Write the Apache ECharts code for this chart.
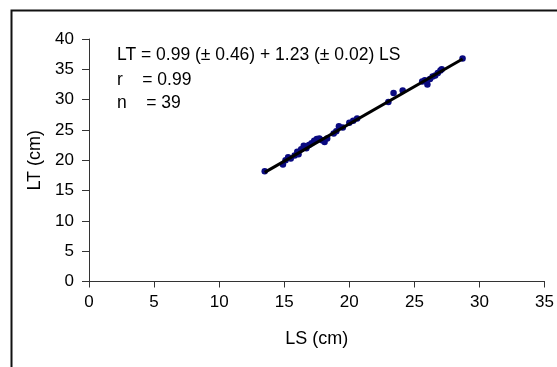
<!DOCTYPE html>
<html>
<head>
<meta charset="utf-8">
<script src="https://cdn.jsdelivr.net/npm/echarts@6/dist/echarts.min.js"></script>
<style>
html,body{margin:0;padding:0;background:#fff;}
#c{width:557px;height:367px;}
</style>
</head>
<body>
<div id="c"></div>
<script>
const xTicks = [0, 5, 10, 15, 20, 25, 30, 35];
const yTicks = [0, 5, 10, 15, 20, 25, 30, 35, 40];
const lsValues = [13.5, 14.9, 15.1, 15.3, 15.5, 15.8, 16.0, 16.1, 16.3, 16.5, 16.7, 16.9, 17.1, 17.3, 17.5, 17.7, 17.9, 18.1, 18.3, 18.8, 19.0, 19.2, 19.5, 20.0, 20.3, 20.6, 23.0, 23.4, 24.1, 25.6, 25.8, 26.0, 26.2, 26.4, 26.6, 26.8, 27.0, 27.1, 28.7];
const ltValues = [18.2, 19.3, 20.0, 20.5, 20.3, 20.8, 21.4, 21.0, 21.8, 22.4, 22.0, 22.5, 22.8, 23.2, 23.5, 23.6, 23.3, 23.0, 23.6, 24.4, 24.8, 25.6, 25.4, 26.2, 26.5, 26.9, 29.6, 31.1, 31.5, 33.0, 33.2, 32.5, 33.4, 33.8, 34.0, 34.4, 34.8, 35.0, 36.8];
const fitLineLS = [13.5, 28.7];
const fitLineLT = [18.0, 36.7];
const equationLines = ["LT = 0.99 (\u00b1 0.46) + 1.23 (\u00b1 0.02) LS", "r    = 0.99", "n    = 39"];

const chart = echarts.init(document.getElementById('c'), null, {renderer: 'canvas'});
const font = 'Liberation Sans, Arial, sans-serif';
const axisCommon = {
  axisLine: {show: true, lineStyle: {color: '#333', width: 1}},
  axisTick: {show: true, inside: false, length: 6, lineStyle: {color: '#333', width: 1}},
  splitLine: {show: false},
  axisLabel: {color: '#000', fontSize: 17, fontFamily: font},
  nameTextStyle: {color: '#000', fontSize: 18, fontFamily: font}
};
chart.setOption({
  animation: false,
  backgroundColor: '#fff',
  grid: {left: 89, right: 11, top: 39, bottom: 85.5, containLabel: false},
  xAxis: Object.assign({}, axisCommon, {
    type: 'value', min: 0, max: 35, interval: 5,
    name: 'LS (cm)', nameLocation: 'middle', nameGap: 49,
    axisLabel: Object.assign({}, axisCommon.axisLabel, {margin: 12})
  }),
  yAxis: Object.assign({}, axisCommon, {
    type: 'value', min: 0, max: 40, interval: 5,
    name: 'LT (cm)', nameLocation: 'middle', nameGap: 41, nameRotate: 90,
    axisTick: Object.assign({}, axisCommon.axisTick, {length: 7}),
    axisLabel: Object.assign({}, axisCommon.axisLabel, {margin: 15})
  }),
  graphic: [
    {type: 'rect', left: 9, top: 8, shape: {width: 700, height: 500}, style: {fill: 'none', stroke: '#111', lineWidth: 2}, silent: true, z: 100},
    {type: 'text', left: 117, top: 46, style: {text: equationLines[0], fontSize: 17.5, fontFamily: font, fill: '#000'}},
    {type: 'text', left: 117, top: 71, style: {text: equationLines[1], fontSize: 17.5, fontFamily: font, fill: '#000'}},
    {type: 'text', left: 117, top: 94, style: {text: equationLines[2], fontSize: 17.5, fontFamily: font, fill: '#000'}}
  ],
  series: [
    {
      type: 'scatter',
      data: lsValues.map((v, i) => [v, ltValues[i]]),
      symbol: 'circle', symbolSize: 6.5,
      itemStyle: {color: '#0a0a80', opacity: 1},
      z: 2
    },
    {
      type: 'line',
      data: fitLineLS.map((v, i) => [v, fitLineLT[i]]),
      symbol: 'none',
      lineStyle: {color: '#000', width: 3},
      z: 3
    }
  ]
});
</script>
</body>
</html>
